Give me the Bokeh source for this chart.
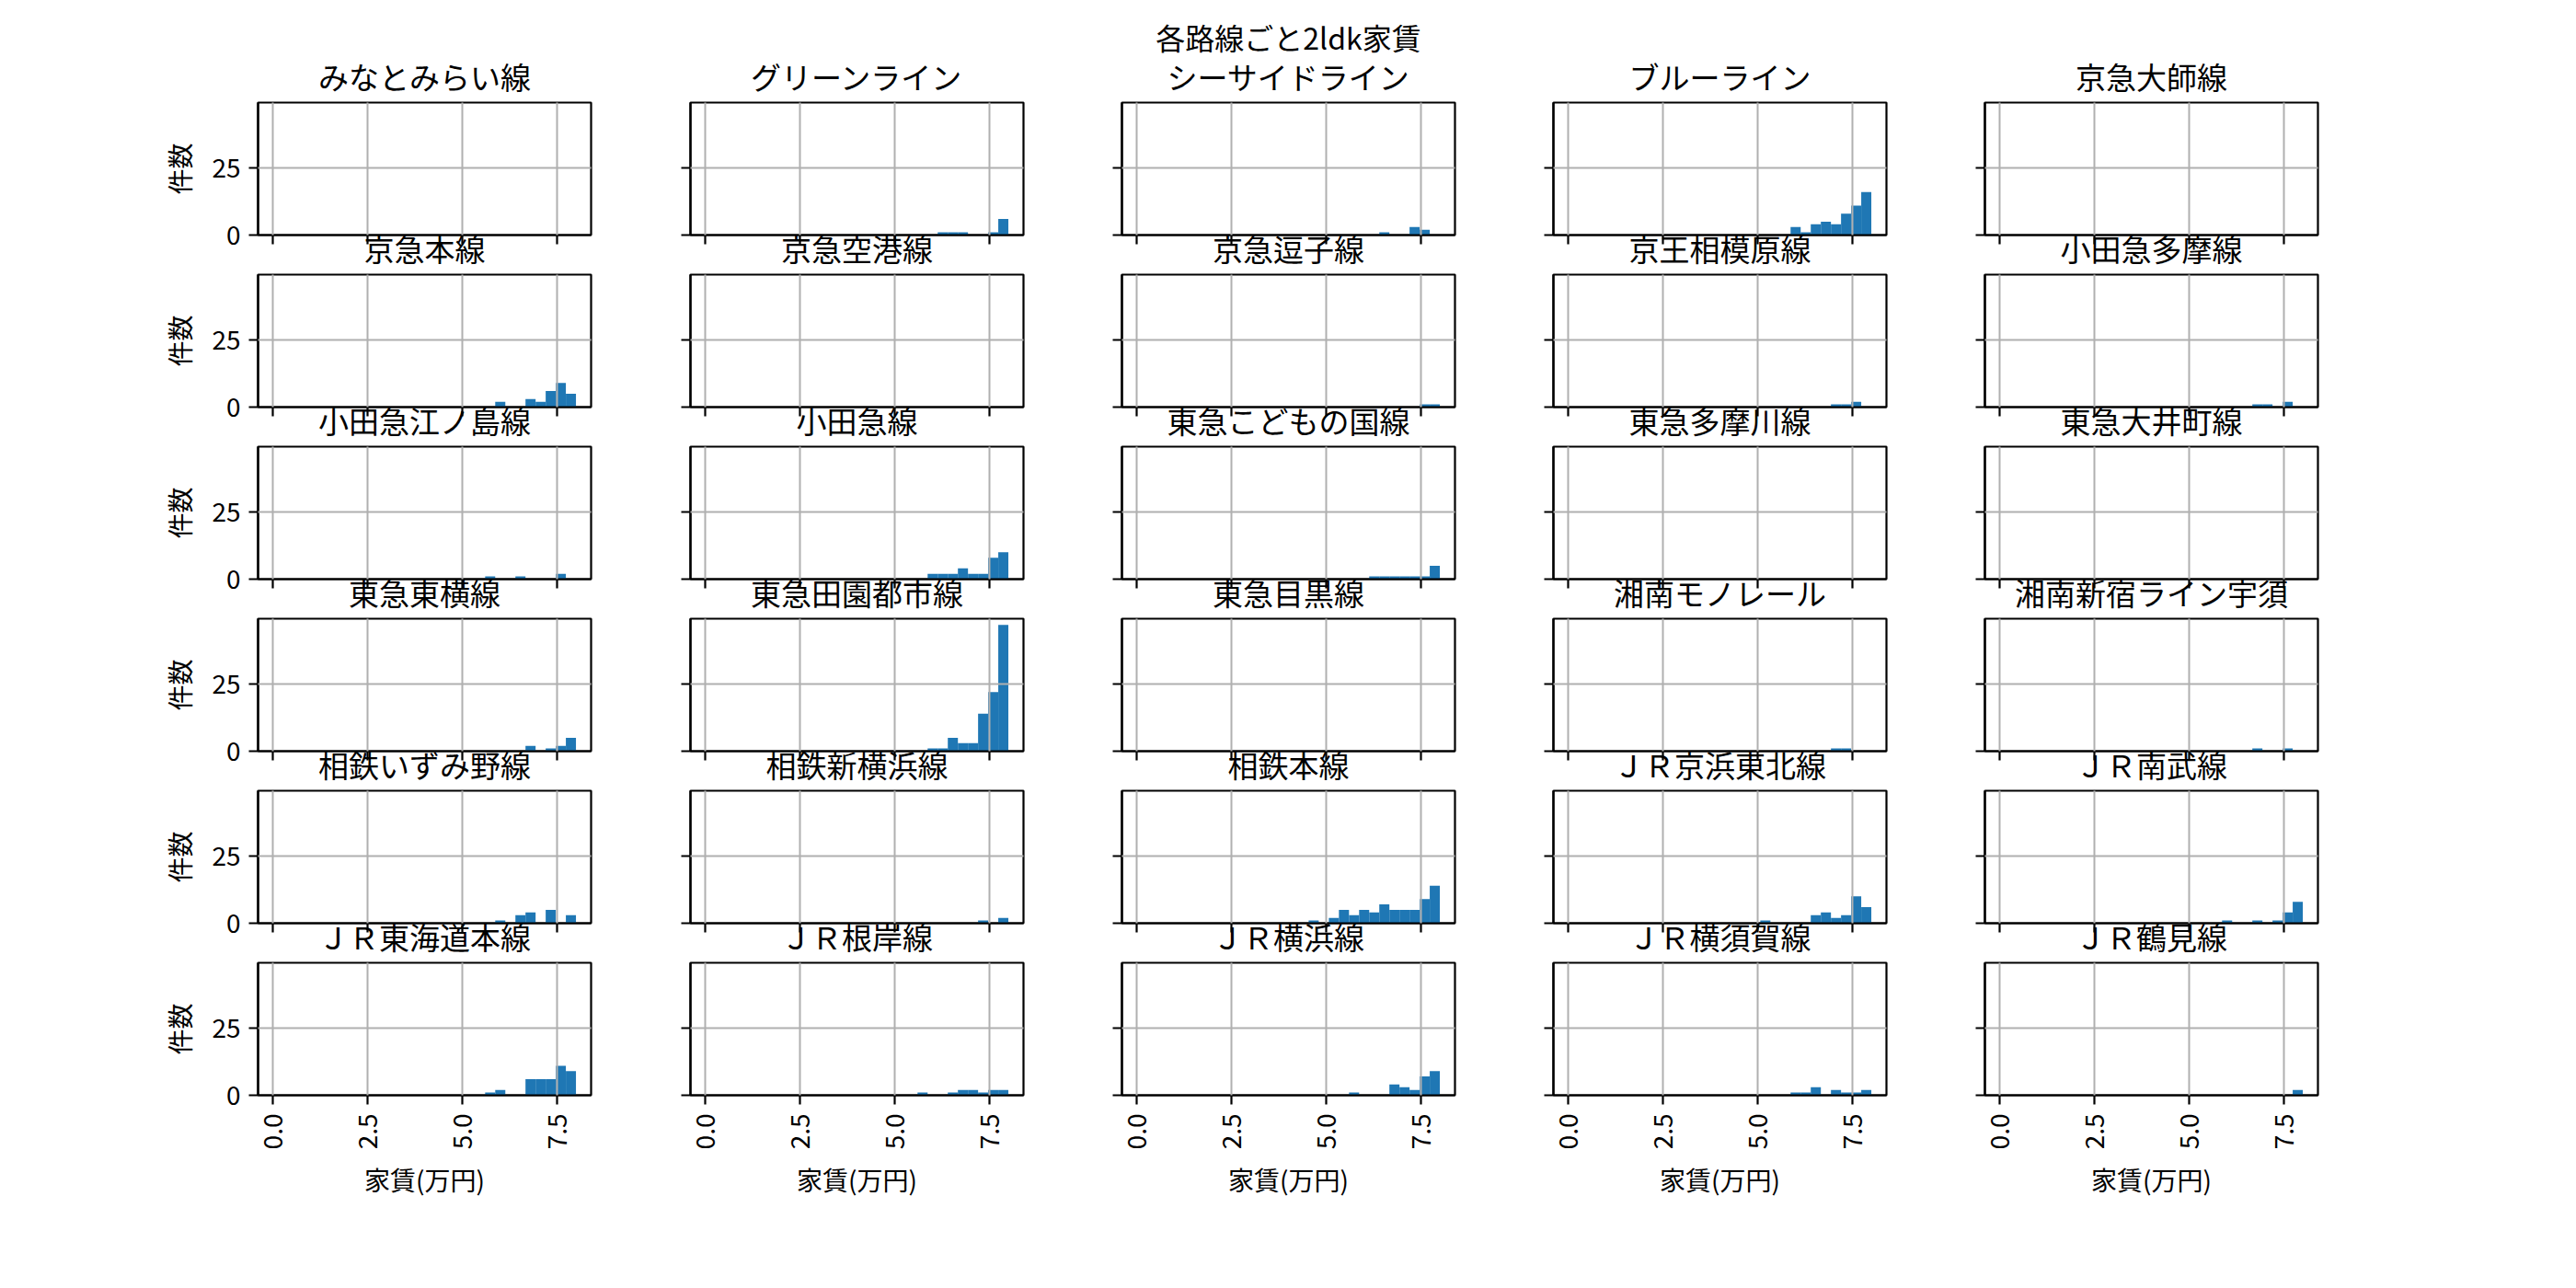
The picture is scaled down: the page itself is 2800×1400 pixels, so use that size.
import math
import numpy as np
from bokeh.plotting import figure
from bokeh.layouts import column, row
from bokeh.models import (Range1d, FixedTicker, Title, ColumnDataSource,
                          PrintfTickFormatter)
from bokeh.embed import file_html
from bokeh.resources import INLINE

# ---------------- data ----------------
SUPTITLE = "各路線ごと2ldk家賃"
X_LABEL = "家賃(万円)"
Y_LABEL = "件数"

lines = ["みなとみらい線", "グリーンライン", "シーサイドライン", "ブルーライン", "京急大師線",
         "京急本線", "京急空港線", "京急逗子線", "京王相模原線", "小田急多摩線",
         "小田急江ノ島線", "小田急線", "東急こどもの国線", "東急多摩川線", "東急大井町線",
         "東急東横線", "東急田園都市線", "東急目黒線", "湘南モノレール", "湘南新宿ライン宇須",
         "相鉄いずみ野線", "相鉄新横浜線", "相鉄本線", "ＪＲ京浜東北線", "ＪＲ南武線",
         "ＪＲ東海道本線", "ＪＲ根岸線", "ＪＲ横浜線", "ＪＲ横須賀線", "ＪＲ鶴見線"]

# histogram bins: 30 bins over 0..8 (万円)
RENT_MIN, RENT_MAX, N_BINS = 0.0, 8.0, 30

# index of the first listed bin for each line, and the counts from there on
first_bin = [0, 23, 24, 22, 0,
             22, 0, 28, 26, 25,
             21, 22, 23, 0, 0,
             25, 22, 0, 26, 25,
             22, 27, 17, 19, 22,
             21, 21, 21, 22, 29]

counts = [[], [1, 1, 1, 0, 0, 1, 6], [1, 0, 0, 3, 2], [3, 1, 4, 5, 4, 8, 11, 16], [],
          [2, 0, 0, 3, 2, 6, 9, 5], [], [1, 1], [1, 1, 2], [1, 1, 0, 2],
          [1, 0, 0, 1, 0, 0, 0, 2], [2, 2, 2, 4, 2, 2, 8, 10], [1, 1, 1, 1, 1, 1, 5], [], [],
          [2, 0, 1, 2, 5], [1, 1, 5, 3, 3, 14, 22, 47], [], [1, 1], [1, 0, 0, 1],
          [1, 0, 3, 4, 0, 5, 0, 3], [1, 0, 2], [1, 0, 2, 5, 3, 5, 4, 7, 5, 5, 5, 9, 14],
          [1, 0, 0, 0, 0, 3, 4, 2, 3, 10, 6], [1, 0, 0, 1, 0, 1, 4, 8],
          [1, 2, 0, 0, 6, 6, 6, 11, 9], [1, 0, 0, 1, 2, 2, 1, 2, 2], [1, 0, 0, 0, 4, 3, 2, 7, 9],
          [1, 1, 3, 0, 2, 1, 1, 2], [2]]

x_ticks = [0, 2.5, 5.0, 7.5]
y_ticks = [0, 25]

# ---------------- style ----------------
FONT = "Noto Sans CJK JP"
BAR = "#1f77b4"
GRID = "#b0b0b0"
FRAME_W, FRAME_H = 362, 144
NCOL, NROW = 5, 6
TOP_FIRST, TOP_OTHER = 111, 61
BOTTOM_INNER, BOTTOM_LAST = 22, 120
ROW_PITCH = 187
OVERLAP = FRAME_H + TOP_OTHER + BOTTOM_INNER - ROW_PITCH

edges = np.linspace(RENT_MIN, RENT_MAX, N_BINS + 1)
span = RENT_MAX - RENT_MIN
x_range = Range1d(RENT_MIN - 0.05 * span, RENT_MAX + 0.05 * span)
ytop = 1.05 * max(max(c) for c in counts if c)
y_range = Range1d(0, ytop)


def hide_labels(ax, ticks):
    ax.major_label_overrides = {t: "" for t in ticks}
    ax.major_label_text_font_size = "0px"
    ax.major_label_standoff = 0


figs = []
for i, name in enumerate(lines):
    r, c = divmod(i, NCOL)
    p = figure(frame_width=FRAME_W, frame_height=FRAME_H,
               x_range=x_range, y_range=y_range,
               output_backend="svg", toolbar_location=None, tools="",
               min_border_left=280 if c == 0 else 60,
               min_border_right=48 if c == 0 else 47,
               min_border_top=TOP_FIRST if r == 0 else TOP_OTHER,
               min_border_bottom=BOTTOM_LAST if r == NROW - 1 else BOTTOM_INNER,
               margin=(0 if r == 0 else -OVERLAP, 0, 0, 0))
    p.background_fill_color = "white"
    p.border_fill_color = None
    p.outline_line_color = "black"
    p.outline_line_width = 2.2

    k0 = first_bin[i]
    cs = counts[i]
    src = ColumnDataSource(dict(left=edges[k0:k0 + len(cs)],
                                right=edges[k0 + 1:k0 + len(cs) + 1],
                                top=cs))
    p.quad(left="left", right="right", bottom=0, top="top", source=src,
           fill_color=BAR, line_color=None)

    xt = FixedTicker(ticks=x_ticks)
    yt = FixedTicker(ticks=y_ticks)
    p.xaxis.ticker = xt
    p.yaxis.ticker = yt
    p.xgrid.ticker = xt
    p.ygrid.ticker = yt
    for g in (p.xgrid, p.ygrid):
        g.grid_line_color = GRID
        g.grid_line_width = 2
        g.level = "guide"

    for ax in (p.xaxis, p.yaxis):
        ax.axis_line_color = "black"
        ax.axis_line_width = 2.2
        ax.major_tick_line_color = "black"
        ax.major_tick_line_width = 2.2
        ax.major_tick_in = 0
        ax.major_tick_out = 10
        ax.minor_tick_in = 0
        ax.minor_tick_out = 0
        ax.major_label_text_font = FONT
        ax.major_label_text_font_size = "28px"
        ax.major_label_text_color = "black"
        ax.axis_label_text_font = FONT
        ax.axis_label_text_font_size = "28px"
        ax.axis_label_text_font_style = "normal"
        ax.axis_label_text_color = "black"

    # x axis
    if r == NROW - 1:
        p.xaxis.formatter = PrintfTickFormatter(format="%.1f")
        p.xaxis.major_label_orientation = math.pi / 2
        p.xaxis.major_label_standoff = 10
        p.xaxis.axis_label = X_LABEL
        p.xaxis.axis_label_standoff = 10
    else:
        hide_labels(p.xaxis, x_ticks)

    # y axis
    if c == 0:
        p.yaxis.major_label_standoff = 9
        p.yaxis.axis_label = Y_LABEL
        p.yaxis.axis_label_standoff = 12
    else:
        hide_labels(p.yaxis, y_ticks)

    # subplot title
    p.add_layout(Title(text=name, align="center", text_font=FONT,
                       text_font_size="33px", text_font_style="normal",
                       text_color="black", standoff=10), "above")
    if r == 0 and c == 2:
        p.add_layout(Title(text=SUPTITLE, align="center", text_font=FONT,
                           text_font_size="32px", text_font_style="normal",
                           text_color="black", standoff=-23), "above")
    figs.append(p)

layout = column(*[row(*figs[r * NCOL:(r + 1) * NCOL], spacing=0) for r in range(NROW)],
                spacing=0)

open("out.html", "w").write(file_html(layout, INLINE))
